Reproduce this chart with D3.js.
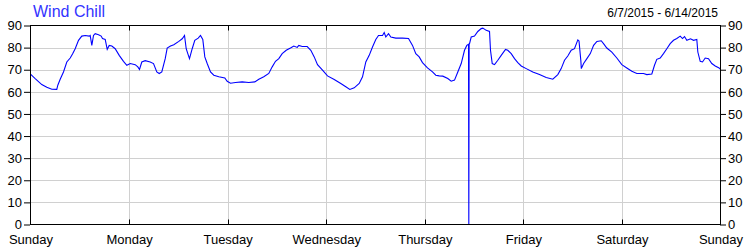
<!DOCTYPE html>
<html><head><meta charset="utf-8">
<script src="https://cdn.jsdelivr.net/npm/d3@7"></script>
<style>body{margin:0;background:#fff;}svg{display:block;}</style>
</head><body>
<svg id="c" width="750" height="250"></svg>
<script>
const title = "Wind Chill";
const dateRange = "6/7/2015 - 6/14/2015";
const dayLabels = ["Sunday","Monday","Tuesday","Wednesday","Thursday","Friday","Saturday","Sunday"];
const yTicks = [0,10,20,30,40,50,60,70,80,90];
// hours since Sunday 6/7/2015 00:00
const hours = [0,1.14,2.75,3.97,5.19,6.40,6.65,7.23,8.03,8.84,9.67,10.23,10.88,11.69,12.49,13.32,14.29,14.53,14.93,15.34,15.75,16.56,17.21,17.53,18.19,18.68,19.16,19.80,20.62,21.60,22.64,23.45,24.28,25.49,26.13,26.54,27.10,27.93,29.14,29.95,30.75,31.34,31.97,32.80,33.28,34.09,34.89,36.11,36.94,37.50,37.91,38.30,38.71,39.37,40.00,40.83,41.39,41.95,42.44,43.02,43.83,44.63,45.85,47.31,47.89,48.70,49.91,51.54,53.15,54.61,55.59,56.80,58.02,58.85,59.65,60.46,61.28,62.26,63.30,64.11,64.94,65.33,66.15,67.37,68.25,69.08,69.88,71.10,72.31,73.95,75.55,76.77,77.74,78.82,80.03,80.84,81.64,82.47,83.27,84.07,84.73,85.71,86.12,86.51,87.17,87.73,88.94,90.58,92.04,93.01,93.81,94.64,95.44,96.66,97.88,98.68,99.51,100.39,101.60,102.43,103.24,104.04,104.87,105.67,106.23,106.65,106.72,106.80,106.89,107.30,108.11,108.91,109.74,110.13,110.96,111.76,112.00,112.42,112.98,113.78,114.61,115.65,116.21,117.04,117.85,118.65,119.48,120.70,122.30,123.93,125.56,127.17,128.39,129.21,130.02,130.82,131.65,132.45,133.26,133.55,134.00,134.11,134.67,135.47,136.30,137.10,137.91,138.96,139.52,140.32,141.54,142.76,143.97,145.19,146.41,147.63,149.26,150.06,151.28,151.93,152.49,153.32,154.12,154.93,155.75,156.56,157.36,158.19,158.75,159.24,159.80,160.70,161.43,162.23,162.48,163.06,163.62,164.28,165.08,165.88,166.72,167.66,168];
const windChill = [68,66.0,63.3,62.1,61.2,61.1,63,65.7,69,73.5,75.3,77.1,79.5,83.3,85.2,85.5,85.2,85.5,81,85.5,86.3,85.8,85.2,84.1,83.7,79.2,81,80.7,79.5,76.5,73.8,72,72.8,72.3,71.3,70.1,73.5,74.1,73.5,72.8,69,68.3,69,75,79.8,80.7,81.3,82.8,84,85.5,79.5,77.3,75,79.5,83.3,84.3,85.5,83.7,75.8,72.8,69,67.5,66.8,66.3,64.8,63.9,64.2,64.5,64.2,64.5,65.7,66.8,68.3,71.3,73.8,75,77.3,78.8,79.8,80.7,80.1,81,80.5,80.5,78.8,75.8,72.3,69.8,67.2,65.6,63.8,62.3,61.1,61.8,63.8,66.8,73.5,76.5,80.3,83.7,85.5,85.5,86.8,84.8,86.3,84.8,84.3,84.3,84.1,81,77.3,75.8,73.2,70.8,69,67.5,67.2,67.1,66,64.8,65.3,69,72.8,78.8,81,81.5,0,81.6,81.8,84.8,85.2,87.3,88.6,88.8,87.8,87.3,78.8,72.8,72.3,74.3,76.5,79.2,78.8,77.3,75,73.2,71.7,70.5,69,67.8,66.5,65.7,67.8,70.5,74.3,76.2,78.8,79.5,83.5,83,74,70.5,72.8,75,77.3,81,82.8,83.1,81.8,79.8,78,75.3,72.3,70.8,69.3,68.3,68.3,67.8,68.1,72,74.7,75.3,77.3,79.5,81.8,83.3,84.1,85.2,84.1,85,83.3,84,83.3,83.7,78,73.8,73.5,75.3,75,72.8,71.7,70.8,70.2];

const svg = d3.select("#c");
const L = 30.5, R = 720.5, T = 25.5, B = 224.5;
const x = d3.scaleLinear().domain([0,168]).range([L,R]);
const y = d3.scaleLinear().domain([0,90]).range([B,T]);
const font = "'Liberation Sans', Arial, sans-serif";

// grid
const g = svg.append("g");
g.selectAll(".hg").data(yTicks.filter(v=>v>0&&v<90)).enter().append("line")
  .attr("x1",L).attr("x2",R).attr("y1",d=>Math.round(y(d))+0.5).attr("y2",d=>Math.round(y(d))+0.5)
  .attr("stroke","#d0d0d0").attr("stroke-width",1);
const dayTicks = d3.range(0,169,24);
g.selectAll(".vg").data(dayTicks.slice(1,-1)).enter().append("line")
  .attr("y1",T).attr("y2",B).attr("x1",d=>Math.round(x(d))+0.5).attr("x2",d=>Math.round(x(d))+0.5)
  .attr("stroke","#d0d0d0").attr("stroke-width",1);

// line
const line = d3.line().x((d,i)=>x(hours[i])).y(d=>y(d));
svg.append("path").datum(windChill).attr("d",line)
  .attr("fill","none").attr("stroke","#0000ff").attr("stroke-width",1.1);

// axes
const yl = d3.axisLeft(y).tickValues(yTicks).tickSize(6).tickPadding(2);
const yr = d3.axisRight(y).tickValues(yTicks).tickSize(6).tickPadding(2);
const xb = d3.axisBottom(x).tickValues(dayTicks).tickSize(0).tickPadding(10).tickFormat((d,i)=>dayLabels[i]);
function style(sel){
  sel.select(".domain").remove();
  sel.selectAll("text").attr("font-family",font).attr("font-size","13px").attr("fill","#000");
  sel.selectAll("line").attr("stroke","#000");
}
svg.append("g").attr("transform",`translate(${L-0.5},0)`).call(yl).call(style);
svg.append("g").attr("transform",`translate(${R-0.5},0)`).call(yr).call(style);
svg.append("g").attr("transform",`translate(0,${B})`).call(xb).call(style);
// inward ticks at top and bottom
svg.selectAll(".tt").data(dayTicks.slice(1,-1)).enter().append("line")
  .attr("x1",d=>Math.round(x(d))+0.5).attr("x2",d=>Math.round(x(d))+0.5).attr("y1",T).attr("y2",T+5).attr("stroke","#000");
svg.selectAll(".bt").data(dayTicks.slice(1,-1)).enter().append("line")
  .attr("x1",d=>Math.round(x(d))+0.5).attr("x2",d=>Math.round(x(d))+0.5).attr("y1",B).attr("y2",B-5).attr("stroke","#000");
// frame
svg.append("rect").attr("x",L).attr("y",T).attr("width",R-L).attr("height",B-T)
  .attr("fill","none").attr("stroke","#000").attr("stroke-width",1);

svg.append("text").attr("x",33).attr("y",17).text(title)
  .attr("font-family",font).attr("font-size","16px").attr("fill","#3333ff");
svg.append("text").attr("x",718).attr("y",17).attr("text-anchor","end").text(dateRange)
  .attr("font-family",font).attr("font-size","12px").attr("fill","#000");
</script>
</body></html>
